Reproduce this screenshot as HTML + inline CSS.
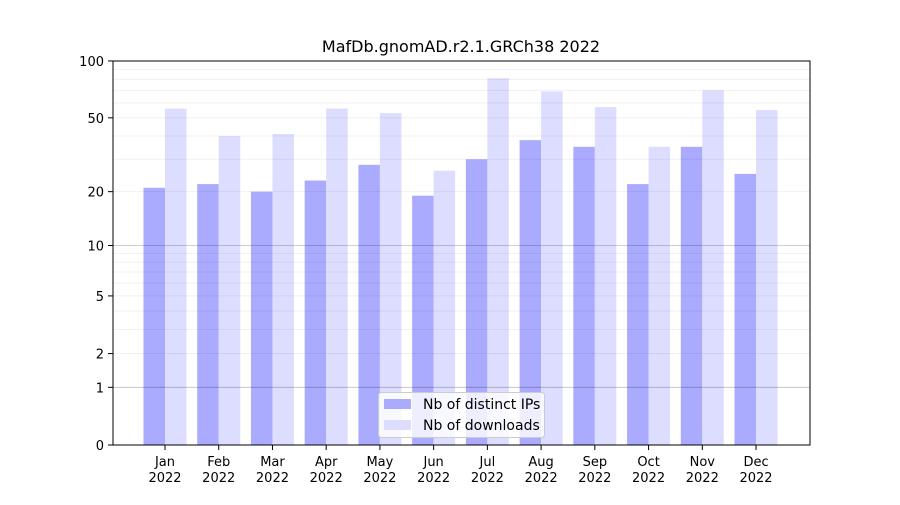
<!DOCTYPE html>
<html><head><meta charset="utf-8"><style>
body{margin:0;background:#fff;}
svg text{font-family:"DejaVu Sans","Liberation Sans",sans-serif;}
</style></head><body>
<svg id="chart" width="900" height="500" xmlns="http://www.w3.org/2000/svg">
<rect width="900" height="500" fill="#fff"/>
<text x="461" y="52" font-size="16" text-anchor="middle">MafDb.gnomAD.r2.1.GRCh38 2022</text>
<g id="bars"></g>
<g id="grid"></g>
<rect x="113" y="61" width="697" height="384" fill="none" stroke="#000" stroke-width="1"/>
<g id="axes"></g>
<g>
<rect x="378.5" y="392.5" width="166" height="45" rx="3" fill="#fff" fill-opacity="0.8" stroke="#ccc"/>
<rect x="384" y="399" width="27" height="10" fill="#aaaaff"/>
<text x="423" y="409" font-size="14">Nb of distinct IPs</text>
<rect x="384" y="420" width="27" height="10" fill="#ddddff"/>
<text x="423" y="430" font-size="14">Nb of downloads</text>
</g>
</svg>
<script>
const months=["Jan","Feb","Mar","Apr","May","Jun","Jul","Aug","Sep","Oct","Nov","Dec"];
const ips=[21,22,20,23,28,19,30,38,35,22,35,25];
const downloads=[56,40,41,56,53,26,81,69,57,35,70,55];
const yTicks=[0,1,2,5,10,20,50,100];
const NS="http://www.w3.org/2000/svg";
function y(v){return 445-191.6*Math.log10(1+v);}
function xc(i){return 165+i*53.73;}
function mk(t,a,p){const e=document.createElementNS(NS,t);for(const k in a)e.setAttribute(k,a[k]);p.appendChild(e);return e;}
const grid=document.getElementById('grid'),bars=document.getElementById('bars'),axes=document.getElementById('axes');
const minors=[];for(let d=1;d<=10;d*=10)for(let m=2;m<=9;m++)minors.push(m*d);
minors.forEach(v=>{const l=mk('line',{x1:113,x2:810,y1:y(v),y2:y(v),stroke:'#000','stroke-opacity':0.07,'stroke-width':0.8},grid);

});
[1,10].forEach(v=>{const l=mk('line',{x1:113,x2:810,y1:y(v),y2:y(v),stroke:'#000','stroke-opacity':0.25,'stroke-width':0.8},grid);

});
months.forEach((m,i)=>{
const c=xc(i);
const b1=mk('rect',{x:c-21.5,y:y(ips[i]),width:21.5,height:445-y(ips[i]),fill:'#aaaaff'},bars);


const b2=mk('rect',{x:c,y:y(downloads[i]),width:21.5,height:445-y(downloads[i]),fill:'#ddddff'},bars);


mk('line',{x1:c,x2:c,y1:445,y2:450,stroke:'#000'},axes);
const t=mk('text',{x:c,y:466,'font-size':13,'text-anchor':'middle'},axes);


mk('tspan',{x:c},t).textContent=m;
mk('tspan',{x:c,dy:16},t).textContent='2022';
});
yTicks.forEach(v=>{
mk('line',{x1:108,x2:113,y1:y(v),y2:y(v),stroke:'#000'},axes);
const t=mk('text',{x:104,y:y(v)+5,'font-size':13,'text-anchor':'end'},axes);


t.textContent=v;
});
</script>
</body></html>
